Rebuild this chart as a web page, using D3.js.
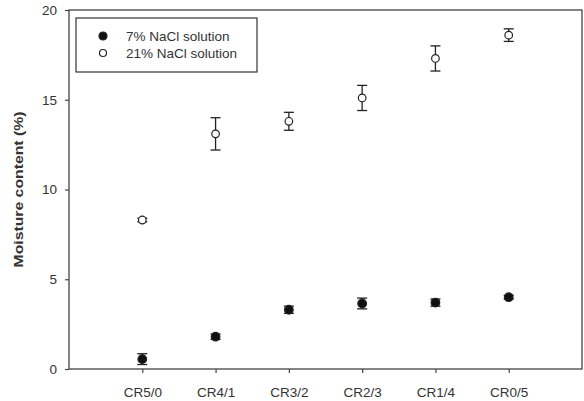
<!DOCTYPE html>
<html>
<head>
<meta charset="utf-8">
<script src="https://cdn.jsdelivr.net/npm/d3@7"></script>
<style>
  body { margin: 0; background: #fff; }
  text { font-family: 'Liberation Sans', Arial, sans-serif; fill: #333; }
</style>
</head>
<body>
<div id="chart"></div>
<script>
const categories = ['CR5/0', 'CR4/1', 'CR3/2', 'CR2/3', 'CR1/4', 'CR0/5']
const nacl7 = [0.55, 1.8, 3.3, 3.65, 3.7, 4.0]
const nacl7Err = [0.3, 0.15, 0.2, 0.3, 0.2, 0.1]
const nacl21 = [8.3, 13.1, 13.8, 15.1, 17.3, 18.6]
const nacl21Err = [0.1, 0.9, 0.5, 0.7, 0.7, 0.35]
const yTicks = [0, 5, 10, 15, 20]

const margin = { top: 10, left: 69, right: 2, bottom: 32 }
const width = 584 - margin.left - margin.right
const height = 401 - margin.top - margin.bottom

const svg = d3
  .select('#chart')
  .append('svg')
  .attr('width', 584)
  .attr('height', 401)
  .append('g')
  .attr('transform', 'translate(' + margin.left + ',' + margin.top + ')')

const xPositionScale = d3.scaleLinear().domain([0, categories.length + 1]).range([0, width])
const yPositionScale = d3.scaleLinear().domain([0, 20]).range([height, 0])

// frame
svg
  .append('rect')
  .attr('width', width)
  .attr('height', height)
  .attr('fill', 'none')
  .attr('stroke', '#444')
  .attr('stroke-width', 1.3)

const yAxis = d3.axisLeft(yPositionScale).tickValues(yTicks).tickSize(4).tickPadding(8)
svg.append('g').attr('class', 'axis').call(yAxis)

const xAxis = d3
  .axisBottom(xPositionScale)
  .tickValues(d3.range(1, categories.length + 1))
  .tickFormat(i => categories[i - 1])
  .tickSize(4)
  .tickPadding(14)
svg.append('g').attr('class', 'axis').attr('transform', `translate(0,${height})`).call(xAxis)

svg.selectAll('.axis .domain').remove()
svg.selectAll('.axis line').attr('stroke', '#444').attr('stroke-width', 1.2)
svg.selectAll('.axis text').style('font-size', '13.5px').attr('fill', '#333')

svg
  .append('text')
  .text('Moisture content (%)')
  .attr('transform', `translate(${-46},${height / 2}) rotate(-90)`)
  .attr('text-anchor', 'middle')
  .attr('textLength', 156)
  .attr('lengthAdjust', 'spacingAndGlyphs')
  .style('font-size', '13.5px')
  .style('font-weight', 'bold')
  .attr('fill', '#222')

function drawSeries(values, errs, filled) {
  const g = svg.append('g')
  const pts = values.map((v, i) => ({ x: i + 1, y: v, e: errs[i] }))
  const bars = g.selectAll('.err').data(pts).enter().append('g')
  bars
    .append('line')
    .attr('x1', d => xPositionScale(d.x))
    .attr('x2', d => xPositionScale(d.x))
    .attr('y1', d => yPositionScale(d.y - d.e))
    .attr('y2', d => yPositionScale(d.y + d.e))
    .attr('stroke', '#222')
    .attr('stroke-width', 1.3)
  ;[-1, 1].forEach(s => {
    bars
      .append('line')
      .attr('x1', d => xPositionScale(d.x) - 5)
      .attr('x2', d => xPositionScale(d.x) + 5)
      .attr('y1', d => yPositionScale(d.y + s * d.e))
      .attr('y2', d => yPositionScale(d.y + s * d.e))
      .attr('stroke', '#222')
      .attr('stroke-width', 1.3)
  })
  g.selectAll('.pt')
    .data(pts)
    .enter()
    .append('circle')
    .attr('cx', d => xPositionScale(d.x))
    .attr('cy', d => yPositionScale(d.y))
    .attr('r', filled ? 4.3 : 3.8)
    .attr('fill', filled ? '#111' : '#fff')
    .attr('stroke', '#222')
    .attr('stroke-width', 1.2)
}

drawSeries(nacl7, nacl7Err, true)
drawSeries(nacl21, nacl21Err, false)

// legend
const legend = svg.append('g').attr('transform', 'translate(7,8)')
legend
  .append('rect')
  .attr('width', 181)
  .attr('height', 54)
  .attr('fill', '#fff')
  .attr('stroke', '#333')
  .attr('stroke-width', 1.2)
const legendItems = [
  { label: '7% NaCl solution', filled: true },
  { label: '21% NaCl solution', filled: false }
]
legendItems.forEach((d, i) => {
  legend
    .append('circle')
    .attr('cx', 27)
    .attr('cy', 18 + i * 17)
    .attr('r', d.filled ? 4 : 3.5)
    .attr('fill', d.filled ? '#111' : '#fff')
    .attr('stroke', '#222')
    .attr('stroke-width', 1.2)
  legend
    .append('text')
    .text(d.label)
    .attr('x', 50)
    .attr('y', 18 + i * 17)
    .attr('dy', '0.35em')
    .style('font-size', '13.5px')
    .attr('fill', '#333')
})
</script>
</body>
</html>
